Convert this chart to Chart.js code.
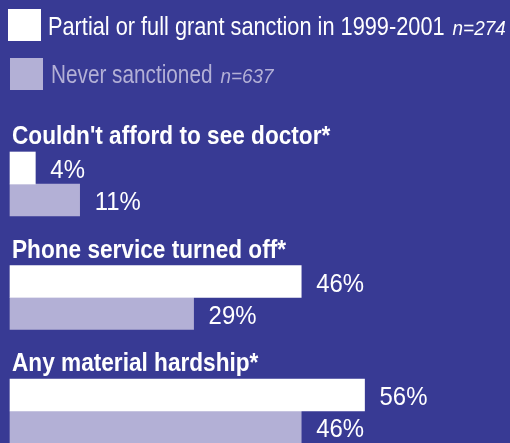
<!DOCTYPE html>
<html>
<head>
<meta charset="utf-8">
<script src="https://cdn.jsdelivr.net/npm/chart.js@4/dist/chart.umd.min.js"></script>
<style>
  html, body { margin: 0; padding: 0; background: #383A94; overflow: hidden; }
  #wrap { position: relative; width: 510px; height: 443px; }
  canvas { display: block; }
</style>
</head>
<body>
<div id="wrap"><canvas id="c" width="510" height="443"></canvas></div>
<script>
const categories = ["Couldn't afford to see doctor*", "Phone service turned off*", "Any material hardship*"];
const sanctionedValues = [4, 46, 56];
const neverValues = [11, 29, 46];
const seriesNames = ["Partial or full grant sanction in 1999-2001", "Never sanctioned"];
const seriesCounts = ["n=274", "n=637"];

const BG = '#383A94';
const WHITE = '#FFFFFF';
const LAV = '#B3B0D6';
const FONT = '"Liberation Sans", Arial, sans-serif';

function squeezeText(ctx, text, x, y, font, sx) {
  ctx.save();
  ctx.font = font;
  ctx.translate(x, y);
  ctx.scale(sx, 1);
  ctx.fillText(text, 0, 0);
  const w = ctx.measureText(text).width * sx;
  ctx.restore();
  return w;
}

const overlay = {
  id: 'overlay',
  afterDatasetsDraw(chart) {
    const ctx = chart.ctx;
    const yS = chart.scales.y;
    ctx.save();
    ctx.textAlign = 'left';
    ctx.textBaseline = 'alphabetic';
    // value labels
    chart.data.datasets.forEach((ds, di) => {
      const meta = chart.getDatasetMeta(di);
      meta.data.forEach((el, i) => {
        ctx.fillStyle = WHITE;
        squeezeText(ctx, ds.data[i] + '%', el.x + 15, el.y + 10, '26px ' + FONT, 0.92);
      });
    });
    // category titles
    chart.data.labels.forEach((lab, i) => {
      const cy = yS.getPixelForValue(i);
      ctx.fillStyle = WHITE;
      squeezeText(ctx, lab, 12, cy - 32 - 8, 'bold 26px ' + FONT, 0.87);
    });
    // legend
    const items = [
      { box: [8, 9, 33, 32], color: WHITE, text: seriesNames[0], n: seriesCounts[0], tx: 48, ty: 35, sx: 0.87 },
      { box: [10, 58, 33, 32], color: LAV, text: seriesNames[1], n: seriesCounts[1], tx: 51, ty: 83, sx: 0.83 }
    ];
    items.forEach(it => {
      ctx.fillStyle = it.color;
      ctx.fillRect(...it.box);
      const w = squeezeText(ctx, it.text, it.tx, it.ty, '25px ' + FONT, it.sx);
      squeezeText(ctx, it.n, it.tx + w + 8, it.ty, 'italic 21px ' + FONT, 0.9);
    });
    ctx.restore();
  }
};

new Chart(document.getElementById('c'), {
  type: 'bar',
  data: {
    labels: categories,
    datasets: [
      { label: seriesNames[0], data: sanctionedValues, backgroundColor: WHITE, barThickness: 32, clip: false },
      { label: seriesNames[1], data: neverValues, backgroundColor: LAV, barThickness: 32, clip: false }
    ]
  },
  options: {
    indexAxis: 'y',
    responsive: false,
    animation: false,
    layout: { padding: { top: 184, bottom: 32, left: 10, right: 10 } },
    scales: {
      x: { display: false, min: 0, max: 77.4 },
      y: { display: false, offset: false }
    },
    plugins: { legend: { display: false }, tooltip: { enabled: false } }
  },
  plugins: [overlay]
});
</script>
</body>
</html>
